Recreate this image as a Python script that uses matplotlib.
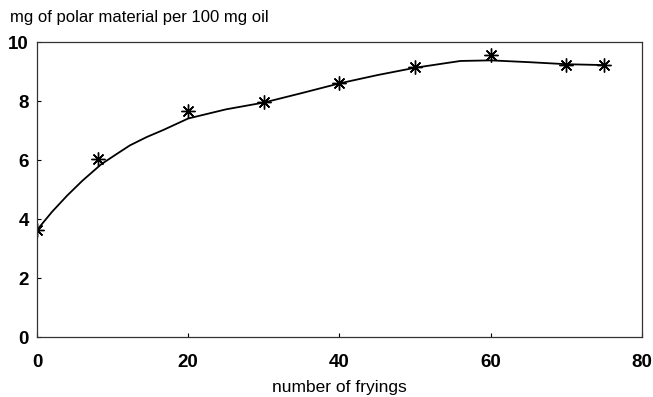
import matplotlib
matplotlib.use('Agg')
from matplotlib import pyplot as plt

plt.rcParams['font.family'] = ['Liberation Sans', 'DejaVu Sans']

# measured points (asterisks)
fryings = [0, 8, 20, 30, 40, 50, 60, 70, 75]
polar = [3.63, 6.05, 7.65, 7.97, 8.61, 9.16, 9.55, 9.22, 9.23]

# fitted curve
curve_x = [0, 2, 4, 6, 8.5, 10.5, 12.3, 14.5, 16.7, 20, 25, 30, 35, 40, 45, 50, 56, 60, 65, 70, 75]
curve_y = [3.63, 4.25, 4.8, 5.3, 5.86, 6.2, 6.5, 6.78, 7.02, 7.41, 7.72, 7.95, 8.27, 8.6, 8.88, 9.13, 9.36, 9.38, 9.32, 9.25, 9.22]

xticks = [0, 20, 40, 60, 80]
yticks = [0, 2, 4, 6, 8, 10]


def drawChart():
    '''Polar material vs number of fryings'''
    fig = plt.figure(figsize=(6.53, 3.97), dpi=100)
    ax = fig.add_axes([0.0567, 0.151, 0.9263, 0.743])

    ax.plot(curve_x, curve_y, color='black', lw=1.3)
    ax.plot(fryings, polar, ls='none', marker=(8, 2, 0), ms=10, mew=1.0, color='black')

    ax.set_xlim(0, 80)
    ax.set_ylim(0, 10)
    ax.set_xticks(xticks)
    ax.set_yticks(yticks)
    ax.tick_params(direction='in', length=3, width=0.8, labelsize=13.5)
    ax.tick_params(axis='x', pad=12)
    ax.tick_params(axis='y', pad=6)
    for lbl in ax.get_xticklabels() + ax.get_yticklabels():
        lbl.set_fontweight('semibold')
    for s in ax.spines.values():
        s.set_linewidth(0.9)
        s.set_color('#333333')

    ax.set_xlabel('number of fryings', fontsize=12.5, labelpad=7)
    fig.text(0.016, 0.955, 'mg of polar material per 100 mg oil', fontsize=12,
             ha='left', va='center')

    fig.savefig('out.png', dpi=100)


if __name__ == '__main__':
    drawChart()
